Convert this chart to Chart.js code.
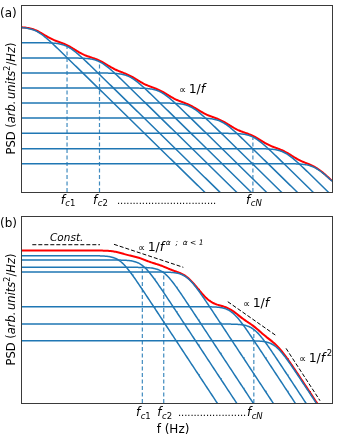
<!DOCTYPE html>
<html>
<head>
<meta charset="utf-8">
<script src="https://cdn.jsdelivr.net/npm/chart.js@4.4.0/dist/chart.umd.min.js"></script>
<style>
  body { margin: 0; background: #fff; }
  canvas { display: block; }
</style>
</head>
<body>
<canvas id="chartA" width="338" height="210"></canvas>
<canvas id="chartB" width="338" height="233"></canvas>
<script>
"use strict";

// (a) ten Lorentzians, plateau levels and corner frequencies
const levelsA = [1.63e-2, 9.5e-4, 5.6e-5, 3.5e-6, 2.2e-7, 1.38e-8, 8.7e-10, 5.1e-11, 3.0e-12, 1.87e-13];
const cutoffsA = [3.9, 64, 1.2e3, 1.78e4, 2.83e5, 4.4e6, 7.2e7, 1.25e9, 2.06e10, 3.2e11];
// dashed markers: which curve, and where the dash stops
const markIndexA = [1, 2, 7];
const markTopA = [4.5e-4, 2.8e-5, 2.2e-11];
const markLabelsA = ["1", "2", "N"];

// (b) seven Lorentzians, two groups
const levelsB = [6.5e-3, 3.77e-3, 1.49e-3, 8.2e-4, 1.01e-5, 1.12e-6, 1.35e-7];
const cutoffsB = [1.39e4, 1.18e5, 9.25e5, 8.5e6, 6.4e8, 5.4e9, 4.2e10];
const markIndexB = [1, 2, 5];
const markTopB = [1.76e-3, 7.7e-4, 5.6e-7];
const markLabelsB = ["1", "2", "N"];

// black dashed guide lines in (b): [f1, psd1, f2, psd2]
const guideConst = [2.97, 2.62e-2, 2.0e3, 2.62e-2];
const guideAlpha = [7.7e3, 2.76e-2, 6.1e6, 1.49e-3];
const guideInvF = [4.4e8, 1.9e-5, 4.9e10, 2.44e-7];
const guideInvF2 = [1.2e11, 5.1e-8, 3.16e12, 6.7e-11];

const FONT = "'DejaVu Sans'";
const BLUE = "#1f77b4";

function logGrid(hi, step) {
  const out = [];
  for (let e = 0; e <= hi + 1e-9; e += step) out.push(Math.pow(10, e));
  return out;
}

function lorentz(f, level, fc) {
  return level / (1 + (f / fc) * (f / fc));
}

function curveDatasets(freqs, levels, cutoffs, markIdx, markTop, yMin) {
  const sets = [];
  for (let i = 0; i < levels.length; i++) {
    sets.push({
      data: freqs.map(f => ({ x: f, y: lorentz(f, levels[i], cutoffs[i]) })),
      borderColor: BLUE,
      borderWidth: 1.5
    });
  }
  for (let k = 0; k < markIdx.length; k++) {
    const fc = cutoffs[markIdx[k]];
    sets.push({
      data: [{ x: fc, y: yMin }, { x: fc, y: markTop[k] }],
      borderColor: "rgba(31,119,180,0.85)",
      borderWidth: 1.2,
      borderDash: [4, 2.5]
    });
  }
  sets.push({
    data: freqs.map(f => {
      let s = 0;
      for (let i = 0; i < levels.length; i++) s += lorentz(f, levels[i], cutoffs[i]);
      return { x: f, y: s };
    }),
    borderColor: "#ff0000",
    borderWidth: 2
  });
  return sets;
}

function guide(g) {
  return {
    data: [{ x: g[0], y: g[1] }, { x: g[2], y: g[3] }],
    borderColor: "#000",
    borderWidth: 1,
    borderDash: [4, 2]
  };
}

function drawRuns(ctx, x, y, runs) {
  for (const r of runs) {
    ctx.font = r.font;
    ctx.fillText(r.t, x, y + (r.dy || 0));
    x += ctx.measureText(r.t).width + (r.gap || 0);
  }
  return x;
}

function runsWidth(ctx, runs) {
  let w = 0;
  for (const r of runs) {
    ctx.font = r.font;
    w += ctx.measureText(r.t).width + (r.gap || 0);
  }
  return w;
}

function propTo(ctx, x, y, sup) {
  const runs = [
    { t: "\u221D", font: "10px " + FONT, gap: 2.5 },
    { t: "1/", font: "12.5px " + FONT },
    { t: "f", font: "italic 12.5px " + FONT, gap: 1.5 }
  ];
  if (sup) runs.push({ t: sup.t, font: sup.font, dy: -6.5 });
  drawRuns(ctx, x, y, runs);
}

function drawFcLabels(ctx, chart, cutoffs, markIdx, labels, baseline) {
  for (let k = 0; k < markIdx.length; k++) {
    const px = chart.scales.x.getPixelForValue(cutoffs[markIdx[k]]);
    const sub = labels[k] === "N"
      ? [{ t: "cN", font: "italic 8.5px " + FONT, dy: 2.5 }]
      : [{ t: "c", font: "italic 8.5px " + FONT, dy: 2.5 }, { t: labels[k], font: "8.5px " + FONT, dy: 2.5 }];
    const runs = [{ t: "f", font: "italic 12px " + FONT, gap: 0.5 }].concat(sub);
    drawRuns(ctx, px + 1 - runsWidth(ctx, runs) / 2, baseline, runs);
  }
}

function drawDots(ctx, x0, x1, y) {
  ctx.font = "10px " + FONT;
  const w = ctx.measureText(".").width;
  for (let x = x0; x + w <= x1; x += 3.1) ctx.fillText(".", x, y);
}

function drawYLabel(ctx, area) {
  const runs = [
    { t: "PSD (", font: "11.5px " + FONT },
    { t: "arb.", font: "italic 11.5px " + FONT, gap: 1.5 },
    { t: "units", font: "italic 11.5px " + FONT },
    { t: "2", font: "8px " + FONT, dy: -5 },
    { t: "/", font: "11.5px " + FONT },
    { t: "Hz", font: "italic 11.5px " + FONT },
    { t: ")", font: "11.5px " + FONT }
  ];
  ctx.save();
  ctx.translate(15, (area.top + area.bottom) / 2);
  ctx.rotate(-Math.PI / 2);
  drawRuns(ctx, -runsWidth(ctx, runs) / 2, 0, runs);
  ctx.restore();
}

const framePlugin = {
  id: "frame",
  afterDatasetsDraw(chart) {
    const { ctx, chartArea: a } = chart;
    ctx.save();
    ctx.strokeStyle = "#3a3a3a";
    ctx.lineWidth = 1;
    ctx.strokeRect(a.left + 0.5, a.top + 0.5, a.right - a.left, a.bottom - a.top);
    ctx.restore();
  }
};

function makePanel(id, datasets, xMax, yMin, padding, drawText) {
  return new Chart(document.getElementById(id), {
    type: "line",
    data: { datasets: datasets.map(d => Object.assign({ pointRadius: 0, fill: false, tension: 0 }, d)) },
    options: {
      responsive: false,
      animation: false,
      events: [],
      layout: { padding: padding },
      plugins: { legend: { display: false }, tooltip: { enabled: false } },
      scales: {
        x: { type: "logarithmic", min: 1, max: xMax, display: false },
        y: { type: "logarithmic", min: yMin, max: 1, display: false }
      }
    },
    plugins: [framePlugin, {
      id: "texts",
      afterDraw(chart) {
        const ctx = chart.ctx;
        ctx.save();
        ctx.fillStyle = "#000";
        ctx.textBaseline = "alphabetic";
        drawText(ctx, chart);
        ctx.restore();
      }
    }]
  });
}

// ---- panel (a)
const xMaxA = 1.585e12;
const yMinA = 1e-15;
const freqA = logGrid(12.2, 0.04);
makePanel("chartA", curveDatasets(freqA, levelsA, cutoffsA, markIndexA, markTopA, yMinA),
  xMaxA, yMinA, { left: 21, top: 5, right: 6, bottom: 18 },
  (ctx, chart) => {
    ctx.font = "12px " + FONT;
    ctx.fillText("(a)", 0, 17);
    propTo(ctx, 179, 93);
    drawFcLabels(ctx, chart, cutoffsA, markIndexA, markLabelsA, 203.5);
    drawDots(ctx, 117, 219, 204);
    drawYLabel(ctx, chart.chartArea);
  });

// ---- panel (b)
const xMaxB = 1e13;
const yMinB = 5e-11;
const freqB = logGrid(13, 0.04);
const setsB = curveDatasets(freqB, levelsB, cutoffsB, markIndexB, markTopB, yMinB)
  .concat([guide(guideConst), guide(guideAlpha), guide(guideInvF), guide(guideInvF2)]);
makePanel("chartB", setsB, xMaxB, yMinB, { left: 21, top: 6, right: 6, bottom: 40 },
  (ctx, chart) => {
    ctx.font = "12px " + FONT;
    ctx.fillText("(b)", 0, 17);
    ctx.font = "italic 10.5px " + FONT;
    ctx.fillText("Const.", 50, 31);
    propTo(ctx, 138, 41, { t: "\u03B1  ;  \u03B1 < 1", font: "italic 7.5px " + FONT });
    propTo(ctx, 243, 97);
    propTo(ctx, 299, 152, { t: "2", font: "8.5px " + FONT });
    drawFcLabels(ctx, chart, cutoffsB, markIndexB, markLabelsB, 206);
    drawDots(ctx, 178, 247, 206);
    ctx.font = "12px " + FONT;
    ctx.textAlign = "center";
    ctx.fillText("f (Hz)", 173, 223);
    ctx.textAlign = "left";
    drawYLabel(ctx, chart.chartArea);
  });
</script>
</body>
</html>
